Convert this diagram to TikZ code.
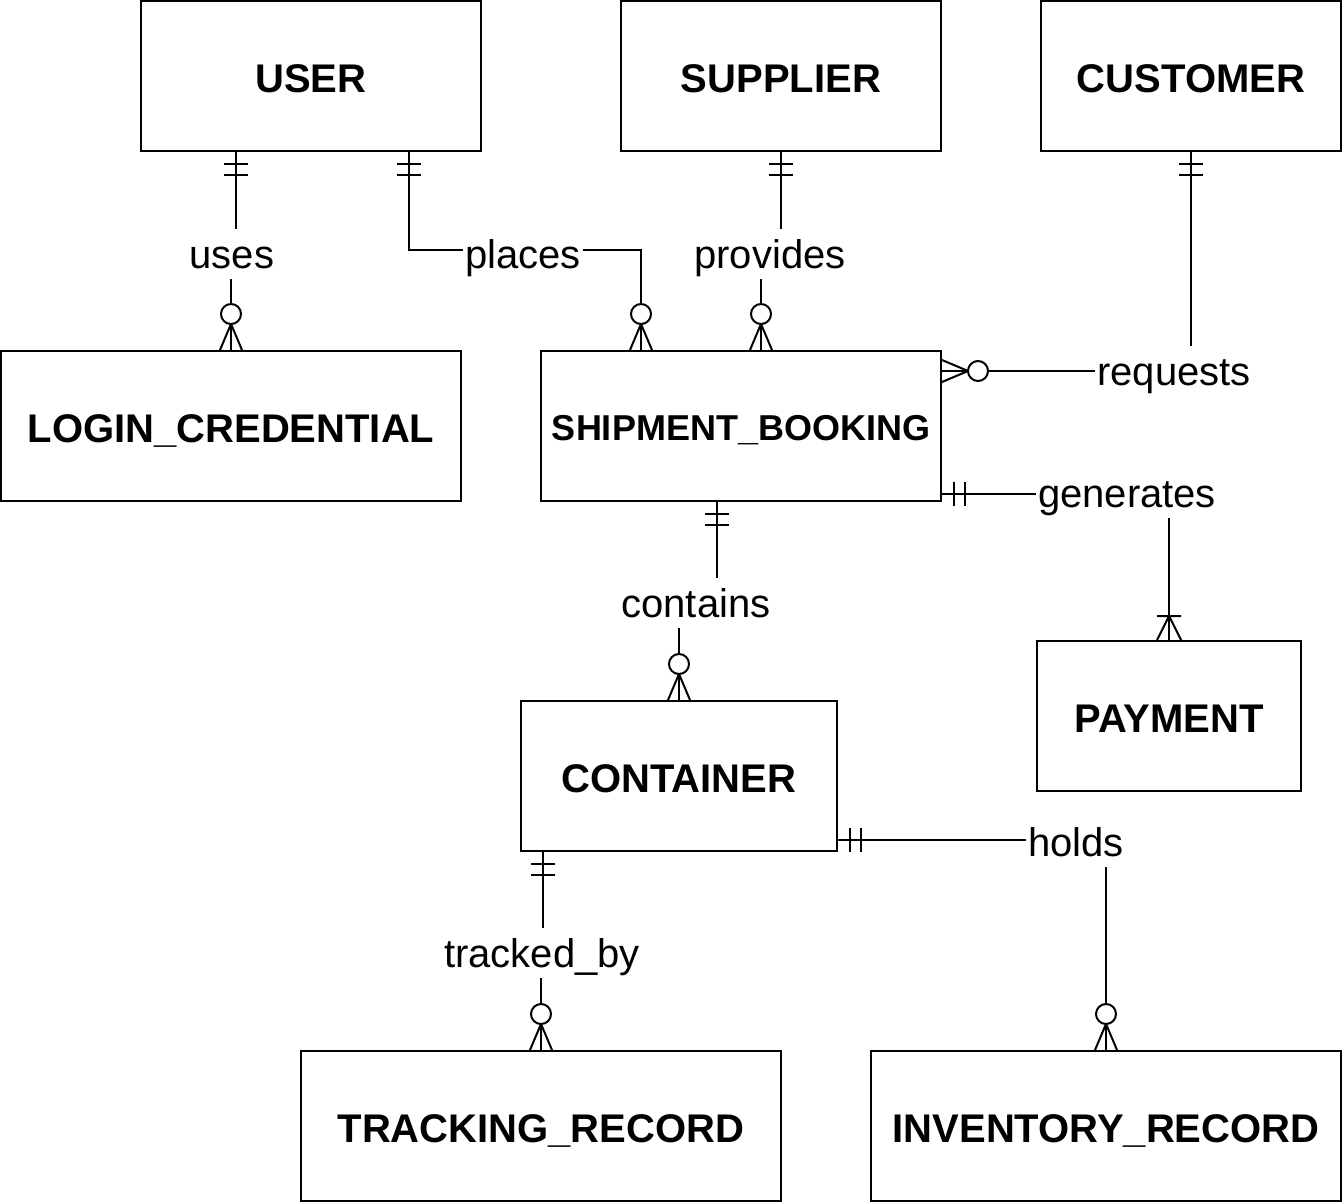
\documentclass[tikz,border=0pt]{standalone}
\usepackage{fontspec}
\setmainfont{Liberation Sans}
\tikzset{
  entity/.style={draw, line width=1.5pt, rectangle, inner sep=0pt, fill=white,
    font=\fontsize{30}{36}\selectfont\bfseries, text height=24.5pt, text depth=0pt},
  conn/.style={line width=1.5pt},
  mk/.style={line width=1.5pt},
  lbl/.style={fill=white, inner xsep=1.5pt, inner ysep=0pt, text height=29.6pt,
    text depth=8.6pt, anchor=base, font=\fontsize{30}{36}\selectfont},
  one/.pic={\draw[mk] (12,-12) -- (12,12) (23,-12) -- (23,12);},
  zmany/.pic={\draw[mk] (26,0) -- (0,11) (26,0) -- (0,-11);
              \draw[mk, fill=white] (36,0) circle[radius=10];},
  omany/.pic={\draw[mk] (24,-12) -- (24,12) (24,0) -- (0,12) (24,0) -- (0,-12);}
}
\begin{document}
\begin{tikzpicture}[x=0.75pt,y=-0.75pt]
\useasboundingbox (0,0) rectangle (1342,1202);

% entities
\node[entity, minimum width=255pt, minimum height=112.5pt] (user) at (311,76) {USER};
\node[entity, minimum width=240pt, minimum height=112.5pt] (supplier) at (781,76) {SUPPLIER};
\node[entity, minimum width=225pt, minimum height=112.5pt] (customer) at (1191,76) {CUSTOMER};
\node[entity, minimum width=345pt, minimum height=112.5pt] (login) at (231,426) {LOGIN\_CREDENTIAL};
\node[entity, minimum width=300pt, minimum height=112.5pt, font=\fontsize{27}{32}\selectfont\bfseries, text height=22.3pt] (shipment) at (741,426) {SHIPMENT\_BOOKING};
\node[entity, minimum width=198pt, minimum height=112.5pt] (payment) at (1169,716) {PAYMENT};
\node[entity, minimum width=237pt, minimum height=112.5pt] (container) at (679,776) {CONTAINER};
\node[entity, minimum width=360pt, minimum height=112.5pt] (tracking) at (541,1126) {TRACKING\_RECORD};
\node[entity, minimum width=352.5pt, minimum height=112.5pt] (inventory) at (1106,1126) {INVENTORY\_RECORD};

% connectors
\draw[conn] (user.south -| 236,0) -- (236,254) -- (231,254) -- (login.north -| 231,0);
\draw[conn] (user.south -| 409,0) |- (641,250) -- (shipment.north -| 641,0);
\draw[conn] (supplier.south -| 781,0) -- (781,254) -- (761,254) -- (shipment.north -| 761,0);
\draw[conn] (customer.south -| 1191,0) |- (shipment.east |- 0,371);
\draw[conn] (shipment.east |- 0,494) -| (payment.north -| 1169,0);
\draw[conn] (shipment.south -| 717,0) -- (717,604) -- (679,604) -- (container.north -| 679,0);
\draw[conn] (container.east |- 0,840) -| (inventory.north -| 1106,0);
\draw[conn] (container.south -| 543,0) -- (543,954) -- (541,954) -- (tracking.north -| 541,0);

% cardinality markers
\pic[rotate=-90] at (user.south -| 236,0) {one};
\pic[rotate=90] at (login.north -| 231,0) {zmany};
\pic[rotate=-90] at (user.south -| 409,0) {one};
\pic[rotate=90] at (shipment.north -| 641,0) {zmany};
\pic[rotate=-90] at (supplier.south -| 781,0) {one};
\pic[rotate=90] at (shipment.north -| 761,0) {zmany};
\pic[rotate=-90] at (customer.south -| 1191,0) {one};
\pic at (shipment.east |- 0,371) {zmany};
\pic at (shipment.east |- 0,494) {one};
\pic[rotate=90] at (payment.north -| 1169,0) {omany};
\pic[rotate=-90] at (shipment.south -| 717,0) {one};
\pic[rotate=90] at (container.north -| 679,0) {zmany};
\pic at (container.east |- 0,840) {one};
\pic[rotate=90] at (inventory.north -| 1106,0) {zmany};
\pic[rotate=-90] at (container.south -| 543,0) {one};
\pic[rotate=90] at (tracking.north -| 541,0) {zmany};

% relationship labels
\node[lbl] (l-uses) at (232,268) {uses};
\node[lbl] (l-places) at (523,268) {places};
\node[lbl] (l-provides) at (770,268) {provides};
\node[lbl] (l-requests) at (1174,385) {requests};
\node[lbl] (l-generates) at (1127,507) {generates};
\node[lbl] (l-contains) at (696,617) {contains};
\node[lbl] (l-holds) at (1076,856) {holds};
\node[lbl] (l-tracked) at (542,967) {tracked\_by};
\end{tikzpicture}
\end{document}
